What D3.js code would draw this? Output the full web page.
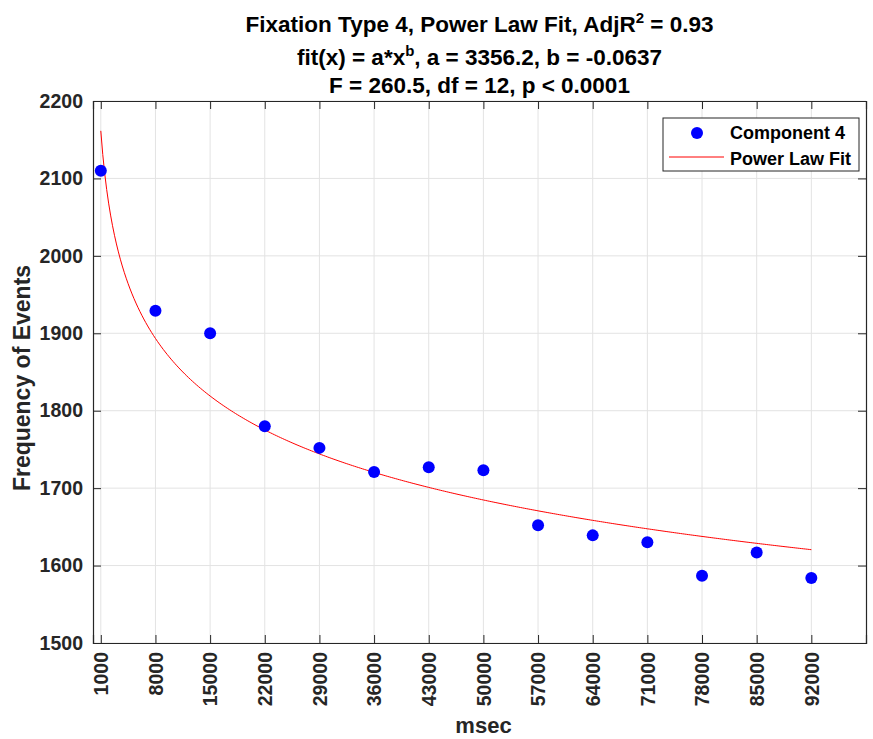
<!DOCTYPE html>
<html>
<head>
<meta charset="utf-8">
<script src="https://cdn.jsdelivr.net/npm/d3@7"></script>
<style>
  body { margin: 0; background: #fff; }
  svg { display: block; font-family: "Liberation Sans", Arial, Helvetica, sans-serif; font-weight: bold; }
</style>
</head>
<body>
<script>
/* ---------------------------- data ---------------------------- */
const xTicks = [1000, 8000, 15000, 22000, 29000, 36000, 43000, 50000, 57000, 64000, 71000, 78000, 85000, 92000];
const yTicks = [1500, 1600, 1700, 1800, 1900, 2000, 2100, 2200];
const msec = [1000, 8000, 15000, 22000, 29000, 36000, 43000, 50000, 57000, 64000, 71000, 78000, 85000, 92000];
const freq = [2110, 1929, 1900, 1780, 1752, 1721, 1727, 1723, 1652, 1639, 1630, 1587, 1617, 1584];
// power law fit parameters (from the title)
const fitA = 3356.2;
const fitB = -0.0637;

/* ---------------------------- layout ---------------------------- */
const width = 873, height = 739;
const plot = { left: 93, right: 866, top: 101, bottom: 643 };
const tickLen = 8;
const axisColor = "#262626";
const gridColor = "#e3e3e3";

const svg = d3.select("body").append("svg")
    .attr("width", width)
    .attr("height", height);

const x = d3.scaleLinear().domain([0, 99000]).range([plot.left, plot.right]);
const y = d3.scaleLinear().domain([1500, 2200]).range([plot.bottom, plot.top]);

//grid
svg.append("g").selectAll("line")
    .data(xTicks).enter().append("line")
    .attr("x1", d => x(d)).attr("x2", d => x(d))
    .attr("y1", plot.top).attr("y2", plot.bottom)
    .attr("stroke", gridColor).attr("stroke-width", 1);
svg.append("g").selectAll("line")
    .data(yTicks).enter().append("line")
    .attr("x1", plot.left).attr("x2", plot.right)
    .attr("y1", d => y(d)).attr("y2", d => y(d))
    .attr("stroke", gridColor).attr("stroke-width", 1);

/* ---------------------------- axes ---------------------------- */
// bottom
const xAxis = svg.append("g")
    .attr("transform", `translate(0,${plot.bottom})`)
    .call(d3.axisBottom(x).tickValues(xTicks).tickSize(-tickLen).tickPadding(0).tickFormat(d3.format("d")));
xAxis.selectAll("text")
    .attr("transform", "rotate(-90)")
    .attr("text-anchor", "end")
    .attr("x", -9).attr("y", 0).attr("dy", "0.35em")
    .attr("font-size", 19.5);
// top (box)
svg.append("g")
    .attr("transform", `translate(0,${plot.top})`)
    .call(d3.axisTop(x).tickValues(xTicks).tickSize(-tickLen).tickFormat(""));
// left
const yAxis = svg.append("g")
    .attr("transform", `translate(${plot.left},0)`)
    .call(d3.axisLeft(y).tickValues(yTicks).tickSize(-tickLen).tickPadding(10).tickFormat(d3.format("d")));
yAxis.selectAll("text").attr("font-size", 19.5);
// right (box)
svg.append("g")
    .attr("transform", `translate(${plot.right},0)`)
    .call(d3.axisRight(y).tickValues(yTicks).tickSize(-tickLen).tickFormat(""));

svg.selectAll(".domain").attr("stroke", axisColor).attr("stroke-width", 1.2);
svg.selectAll(".tick line").attr("stroke", axisColor);
svg.selectAll(".tick text").attr("fill", axisColor).attr("font-family", "Liberation Sans, Arial, sans-serif").attr("font-weight", "bold");

/* ---------------------------- fit curve ---------------------------- */
const fitX = d3.range(msec[0], msec[msec.length - 1] + 1, 250);
const line = d3.line().x(d => x(d)).y(d => y(fitA * Math.pow(d, fitB)));
svg.append("path")
    .datum(fitX)
    .attr("d", line)
    .attr("fill", "none")
    .attr("stroke", "#ff0000")
    .attr("stroke-width", 1);

/* ---------------------------- points ---------------------------- */
svg.append("g").selectAll("circle")
    .data(msec).enter().append("circle")
    .attr("cx", d => x(d))
    .attr("cy", (d, i) => y(freq[i]))
    .attr("r", 6)
    .attr("fill", "#0000ff");

/* ---------------------------- titles ---------------------------- */
const cx = (plot.left + plot.right) / 2;
const title = svg.append("g").attr("fill", "#000").attr("font-size", 22.5).attr("text-anchor", "middle");
const t1 = title.append("text").attr("x", cx).attr("y", 32);
t1.append("tspan").text("Fixation Type 4, Power Law Fit, AdjR");
t1.append("tspan").attr("dy", -9).attr("font-size", 15).text("2");
t1.append("tspan").attr("dy", 9).text(" = 0.93");
const t2 = title.append("text").attr("x", cx).attr("y", 65);
t2.append("tspan").text("fit(x) = a*x");
t2.append("tspan").attr("dy", -9).attr("font-size", 15).text("b");
t2.append("tspan").attr("dy", 9).text(", a = 3356.2, b = -0.0637");
title.append("text").attr("x", cx).attr("y", 93).text("F = 260.5, df = 12, p < 0.0001");

svg.append("text")
    .attr("transform", `translate(30,${(plot.top + plot.bottom) / 2 + 6}) rotate(-90)`)
    .attr("text-anchor", "middle")
    .attr("font-size", 23)
    .attr("fill", axisColor)
    .text("Frequency of Events");
svg.append("text")
    .attr("x", cx + 4).attr("y", 733)
    .attr("text-anchor", "middle")
    .attr("font-size", 22)
    .attr("fill", axisColor)
    .text("msec");

/* ---------------------------- legend ---------------------------- */
const legend = svg.append("g").attr("transform", "translate(663,118)");
legend.append("rect")
    .attr("width", 196).attr("height", 53)
    .attr("fill", "#fff").attr("stroke", axisColor).attr("stroke-width", 1);
legend.append("circle").attr("cx", 34).attr("cy", 15).attr("r", 6).attr("fill", "#0000ff");
legend.append("line").attr("x1", 6).attr("x2", 61).attr("y1", 39).attr("y2", 39)
    .attr("stroke", "#ff0000").attr("stroke-width", 1);
legend.append("text").attr("x", 67).attr("y", 21).attr("font-size", 18).attr("fill", "#000").text("Component 4");
legend.append("text").attr("x", 67).attr("y", 47).attr("font-size", 18).attr("fill", "#000").text("Power Law Fit");
</script>
</body>
</html>
